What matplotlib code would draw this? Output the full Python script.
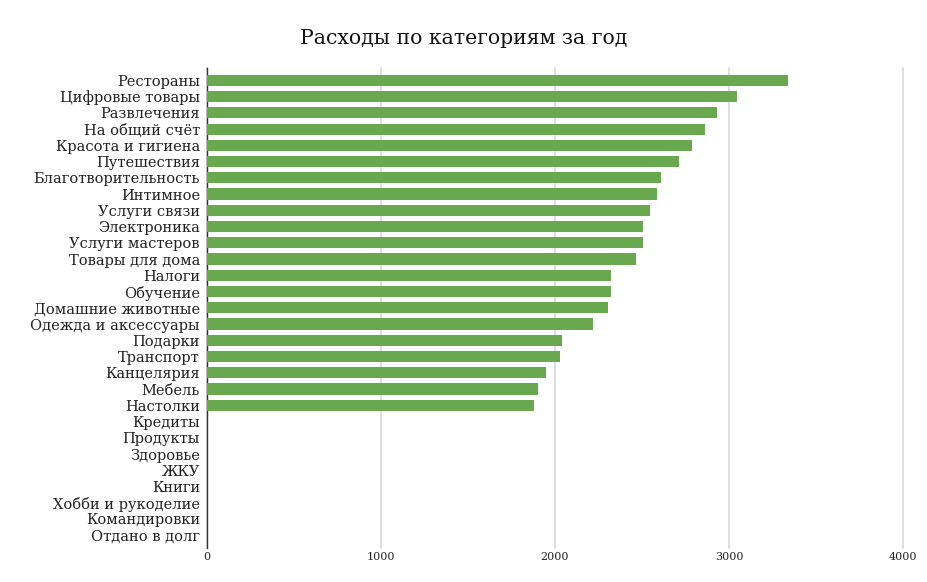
import matplotlib.pyplot as plt

# Data
categories = [
    'Рестораны', 'Цифровые товары', 'Развлечения', 'На общий счёт',
    'Красота и гигиена', 'Путешествия', 'Благотворительность', 'Интимное',
    'Услуги связи', 'Электроника', 'Услуги мастеров', 'Товары для дома',
    'Налоги', 'Обучение', 'Домашние животные', 'Одежда и аксессуары',
    'Подарки', 'Транспорт', 'Канцелярия', 'Мебель', 'Настолки',
    'Кредиты', 'Продукты', 'Здоровье', 'ЖКУ', 'Книги',
    'Хобби и рукоделие', 'Командировки', 'Отдано в долг',
]
values = [
    3341, 3046, 2929, 2860, 2787, 2713, 2607, 2588, 2546, 2508, 2504, 2466,
    2324, 2322, 2305, 2218, 2040, 2029, 1946, 1904, 1879,
    0, 0, 0, 0, 0, 0, 0, 0,
]
xticks = [0, 1000, 2000, 3000, 4000]

plt.rcParams['font.family'] = ['DejaVu Serif']

fig = plt.figure(figsize=(9.28, 5.82), dpi=100)
ax = fig.add_axes([0.223, 0.058, 0.750, 0.825])

ypos = list(range(len(categories)))
ax.barh(ypos, values, height=0.68, color='#6aa84f', zorder=3)

ax.set_xlim(0, 4000)
ax.set_ylim(len(categories) - 0.2, -0.75)
ax.set_yticks(ypos)
ax.set_yticklabels(categories, fontsize=10.5, color='#222222')
ax.set_xticks(xticks)
ax.set_xticklabels([str(t) for t in xticks], fontsize=8, color='#222222')
ax.tick_params(length=0)
ax.tick_params(axis='x', pad=3)
ax.tick_params(axis='y', pad=5)

ax.grid(axis='x', color='#d9d9d9', linewidth=1.2, zorder=0)
for line in ax.get_xgridlines():
    line.set_clip_on(False)
for side in ['top', 'right', 'bottom']:
    ax.spines[side].set_visible(False)
ax.spines['left'].set_color('#333333')
ax.spines['left'].set_linewidth(1)

fig.suptitle('Расходы по категориям за год', fontsize=14.7, y=0.95, color='#111111')

fig.savefig('out.png', dpi=100)
